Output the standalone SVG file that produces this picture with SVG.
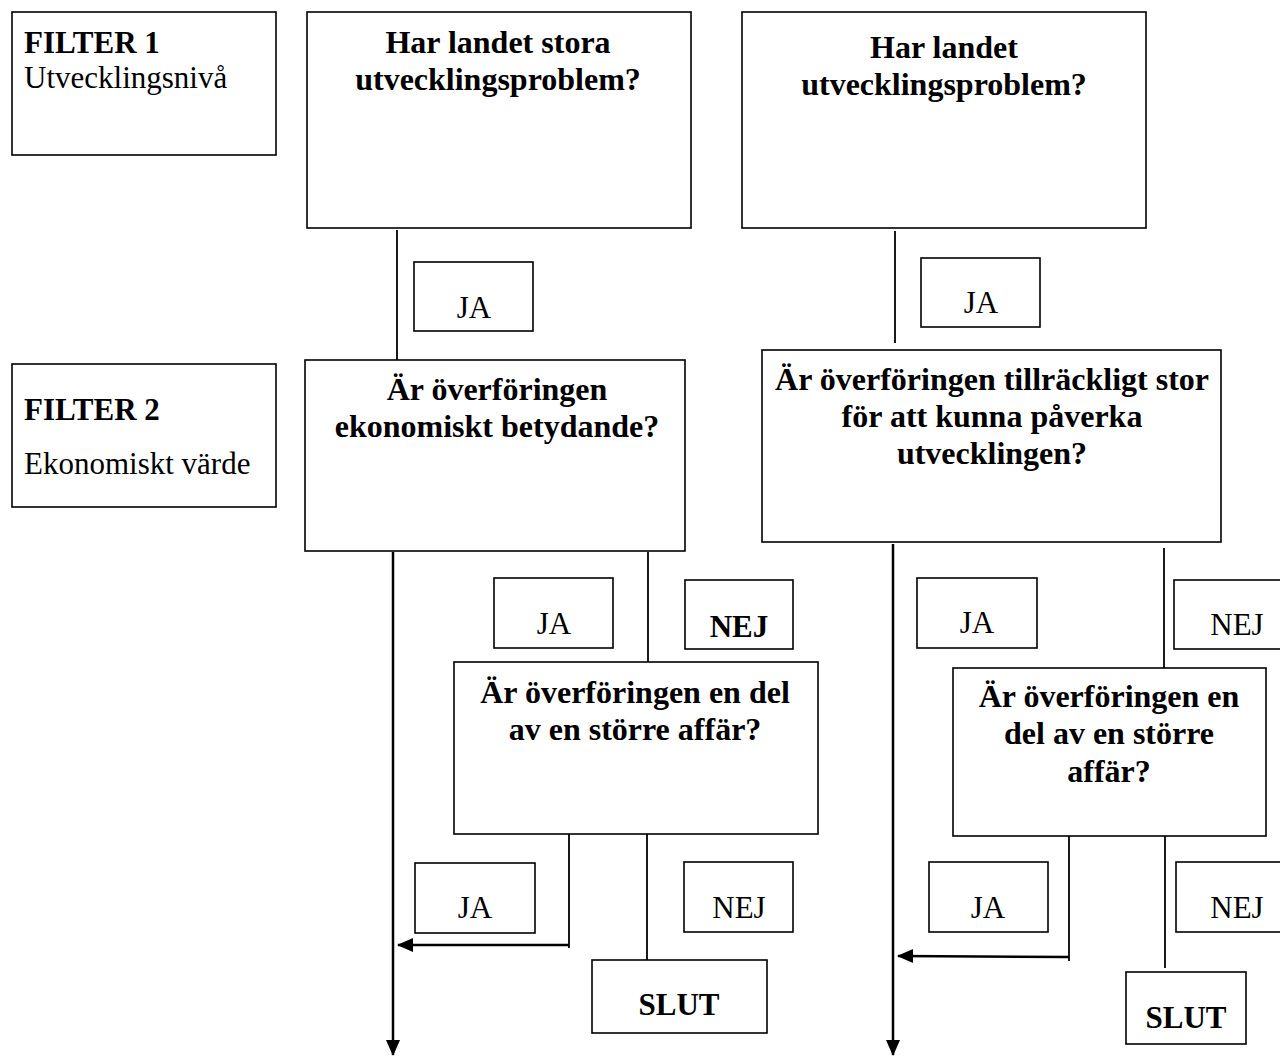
<svg xmlns="http://www.w3.org/2000/svg" width="1280" height="1056" viewBox="0 0 1280 1056">
<style>
.box{fill:#fff;stroke:#000;stroke-width:1.6}
.ln{stroke:#000;stroke-width:1.8;fill:none}
.main{stroke:#000;stroke-width:2.5;fill:none}
text{font-family:"Liberation Serif","Times New Roman",serif;fill:#000}
.q{font-size:32px;font-weight:bold;text-anchor:middle}
.lb{font-size:31px;text-anchor:middle}
.lbb{font-size:31px;text-anchor:middle;font-weight:bold}
.f{font-size:31px}
</style>
<defs>
<marker id="ahs" markerWidth="16" markerHeight="16" refX="15" refY="8" orient="auto" markerUnits="userSpaceOnUse" viewBox="0 0 16 16">
<path d="M0,1 L16,8 L0,15 z" fill="#000"/>
</marker>
</defs>
<rect width="1280" height="1056" fill="#fff"/>

<g id="connectors">
<line class="ln" x1="397" y1="230" x2="397" y2="360"/>
<line class="ln" x1="895" y1="231" x2="895" y2="343"/>
<line class="main" x1="393" y1="552" x2="393" y2="1055" marker-end="url(#ahs)"/>
<line class="ln" x1="648" y1="552" x2="648" y2="662"/>
<line class="ln" x1="569" y1="828" x2="569" y2="948"/>
<path class="main" d="M569,945 L398,945" marker-end="url(#ahs)"/>
<line class="ln" x1="647" y1="828" x2="647" y2="960"/>
<line class="main" x1="893" y1="544" x2="893" y2="1055" marker-end="url(#ahs)"/>
<line class="ln" x1="1164" y1="548" x2="1164" y2="668"/>
<line class="ln" x1="1069" y1="833" x2="1069" y2="961"/>
<path class="main" d="M1069,957 L898,956" marker-end="url(#ahs)"/>
<line class="ln" x1="1165" y1="834" x2="1165" y2="968"/>
</g>

<g id="filter1">
<rect class="box" x="12" y="12" width="264" height="143"/>
<text class="f" x="24" y="53" font-weight="bold">FILTER 1</text>
<text class="f" x="24" y="88">Utvecklingsnivå</text>
</g>
<g id="filter2">
<rect class="box" x="12" y="364" width="264" height="143"/>
<text class="f" x="24" y="420" font-weight="bold">FILTER 2</text>
<text class="f" x="24" y="474">Ekonomiskt värde</text>
</g>

<g id="a1">
<rect class="box" x="307" y="12" width="384" height="216"/>
<text class="q" x="498" y="53">Har landet stora</text>
<text class="q" x="498" y="90">utvecklingsproblem?</text>
</g>
<g id="b1">
<rect class="box" x="742" y="12" width="404" height="216"/>
<text class="q" x="944" y="58">Har landet</text>
<text class="q" x="944" y="95">utvecklingsproblem?</text>
</g>

<g id="ja1a">
<rect class="box" x="414" y="262" width="119" height="69"/>
<text class="lb" x="474" y="318">JA</text>
</g>
<g id="ja1b">
<rect class="box" x="921" y="258" width="119" height="69"/>
<text class="lb" x="981" y="313">JA</text>
</g>

<g id="a2">
<rect class="box" x="305" y="360" width="380" height="191"/>
<text class="q" x="497" y="400">Är överföringen</text>
<text class="q" x="497" y="437">ekonomiskt betydande?</text>
</g>
<g id="b2">
<rect class="box" x="762" y="350" width="459" height="192"/>
<text class="q" x="992" y="390">Är överföringen tillräckligt stor</text>
<text class="q" x="992" y="427">för att kunna påverka</text>
<text class="q" x="992" y="464">utvecklingen?</text>
</g>

<g id="ja2a">
<rect class="box" x="494" y="578" width="119" height="70"/>
<text class="lb" x="554" y="634">JA</text>
</g>
<g id="nej2a">
<rect class="box" x="685" y="580" width="108" height="69"/>
<text class="lbb" x="739" y="637">NEJ</text>
</g>
<g id="ja2b">
<rect class="box" x="917" y="578" width="120" height="70"/>
<text class="lb" x="977" y="633">JA</text>
</g>
<g id="nej2b">
<rect class="box" x="1174" y="580" width="112" height="69"/>
<text class="lb" x="1237" y="635">NEJ</text>
</g>

<g id="a3">
<rect class="box" x="454" y="662" width="364" height="172"/>
<text class="q" x="635" y="703">Är överföringen en del</text>
<text class="q" x="635" y="740">av en större affär?</text>
</g>
<g id="b3">
<rect class="box" x="953" y="668" width="313" height="168"/>
<text class="q" x="1109" y="707">Är överföringen en</text>
<text class="q" x="1109" y="744">del av en större</text>
<text class="q" x="1109" y="782">affär?</text>
</g>

<g id="ja3a">
<rect class="box" x="415" y="863" width="120" height="70"/>
<text class="lb" x="475" y="918">JA</text>
</g>
<g id="nej3a">
<rect class="box" x="684" y="862" width="109" height="70"/>
<text class="lb" x="739" y="918">NEJ</text>
</g>
<g id="slut3a">
<rect class="box" x="592" y="960" width="175" height="73"/>
<text class="lbb" x="679" y="1015">SLUT</text>
</g>
<g id="ja3b">
<rect class="box" x="929" y="862" width="119" height="70"/>
<text class="lb" x="988" y="918">JA</text>
</g>
<g id="nej3b">
<rect class="box" x="1176" y="862" width="110" height="70"/>
<text class="lb" x="1237" y="918">NEJ</text>
</g>
<g id="slut3b">
<rect class="box" x="1126" y="972" width="120" height="72"/>
<text class="lbb" x="1186" y="1028">SLUT</text>
</g>
</svg>
